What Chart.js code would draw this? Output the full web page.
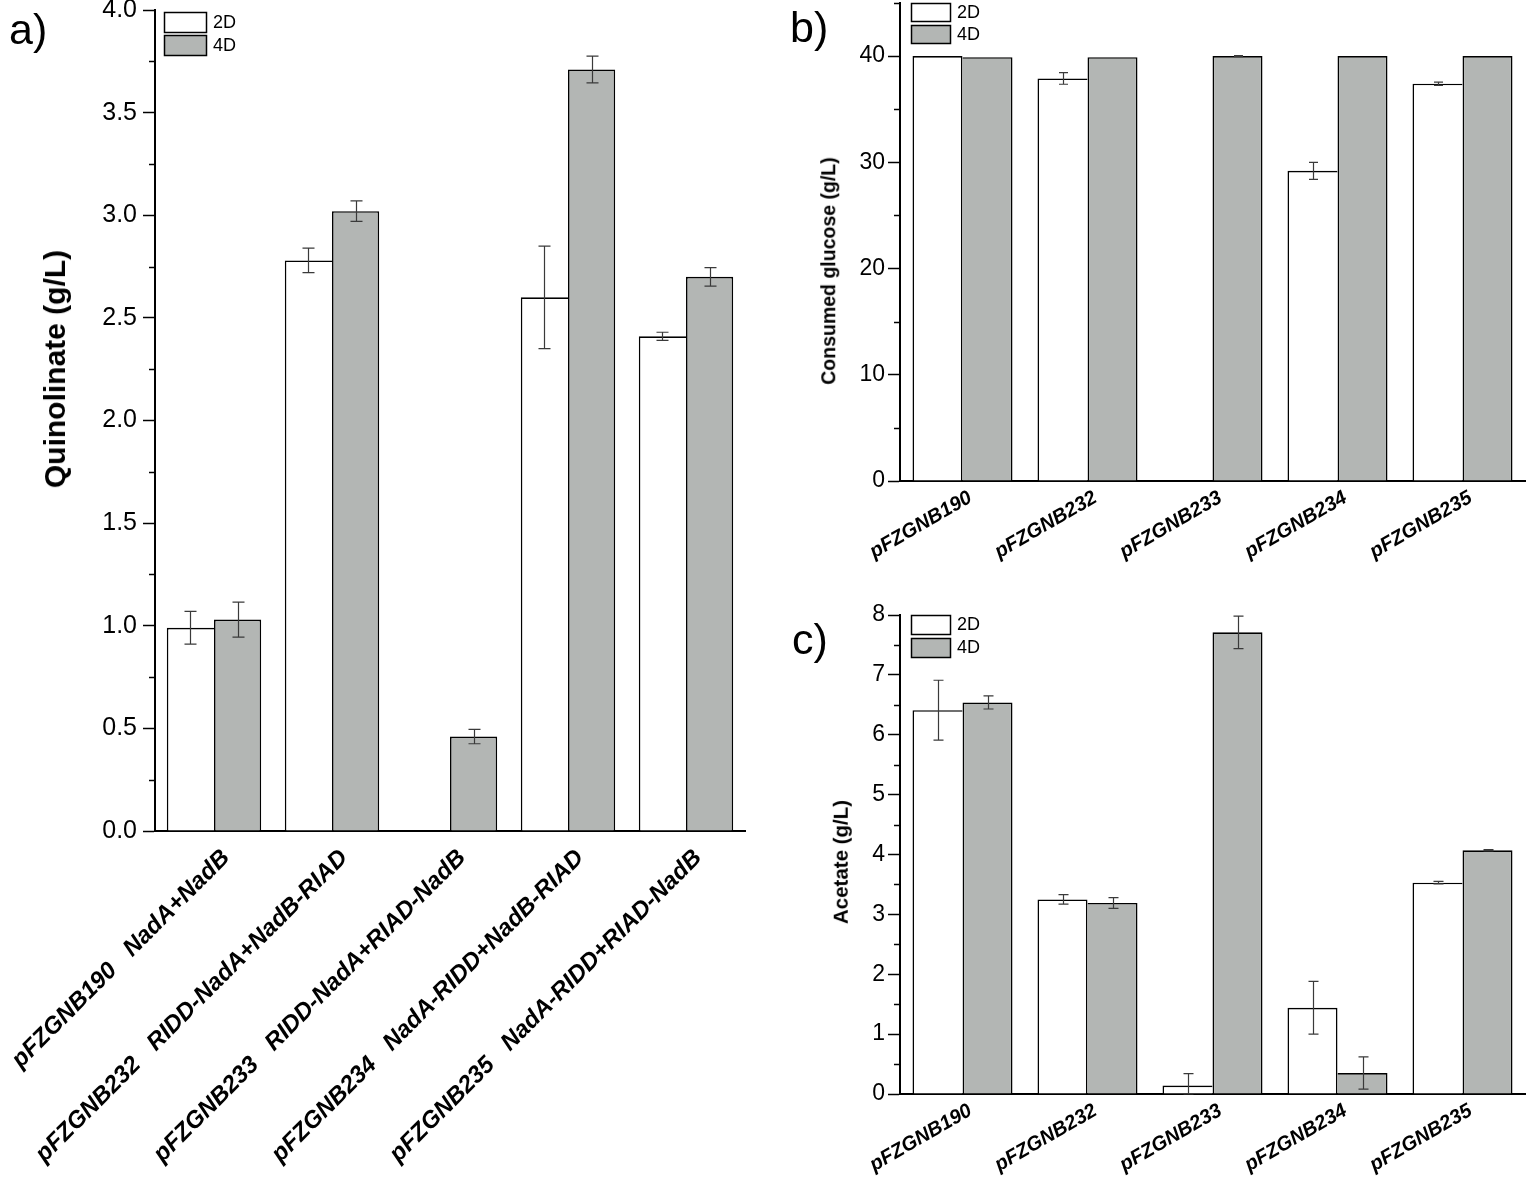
<!DOCTYPE html>
<html><head><meta charset="utf-8">
<script src="https://cdn.jsdelivr.net/npm/chart.js@4.4.1/dist/chart.umd.min.js"></script>
<style>
html,body{margin:0;padding:0;background:#fff;}
body{width:1528px;height:1180px;position:relative;overflow:hidden;font-family:"Liberation Sans",Arial,sans-serif;color:#000;}
.cv{position:absolute;}
.pl{position:absolute;font-size:43px;line-height:1;}
.yt{position:absolute;font-weight:bold;white-space:nowrap;line-height:1;transform:translate(-50%,-50%) rotate(-90deg);}
</style></head><body>
<div class="cv" style="left:0;top:0"><canvas id="ca" width="760" height="1180"></canvas></div>
<div class="cv" style="left:780px;top:0"><canvas id="cb" width="748" height="590"></canvas></div>
<div class="cv" style="left:780px;top:590px"><canvas id="cc" width="748" height="590"></canvas></div>
<div class="pl" style="left:9px;top:8px">a)</div>
<div class="pl" style="left:790px;top:6px">b)</div>
<div class="pl" style="left:792px;top:618px">c)</div>
<div class="yt" style="left:55px;top:369px;font-size:30px">Quinolinate (g/L)</div>
<div class="yt" style="left:829px;top:271px;font-size:19.5px">Consumed glucose (g/L)</div>
<div class="yt" style="left:841px;top:862px;font-size:20.5px">Acetate (g/L)</div>
<script>
// ---------- data ----------
const seriesLabels = ['2D', '4D'];
const categoriesA = ['pFZGNB190   NadA+NadB', 'pFZGNB232   RIDD-NadA+NadB-RIAD', 'pFZGNB233   RIDD-NadA+RIAD-NadB', 'pFZGNB234   NadA-RIDD+NadB-RIAD', 'pFZGNB235   NadA-RIDD+RIAD-NadB'];
const categoriesBC = ['pFZGNB190', 'pFZGNB232', 'pFZGNB233', 'pFZGNB234', 'pFZGNB235'];

const quin2D = [0.99, 2.78, null, 2.60, 2.41];
const quin2DErr = [0.08, 0.06, null, 0.25, 0.02];
const quin4D = [1.03, 3.02, 0.46, 3.71, 2.70];
const quin4DErr = [0.085, 0.05, 0.035, 0.065, 0.045];

const gluc2D = [40.0, 37.9, null, 29.2, 37.4];
const gluc2DErr = [0, 0.55, null, 0.8, 0.15];
const gluc4D = [39.9, 39.9, 40.0, 40.0, 40.0];
const gluc4DErr = [0, 0, 0.05, 0, 0];

const acet2D = [6.41, 3.25, 0.14, 1.44, 3.53];
const acet2DErr = [0.50, 0.08, 0.20, 0.44, 0.02];
const acet4D = [6.54, 3.19, 7.71, 0.35, 4.07];
const acet4DErr = [0.11, 0.09, 0.27, 0.27, 0.01];

// ---------- styling ----------
const FAM = '"Liberation Sans", Arial, sans-serif';
const C2D = '#ffffff';
const C4D = 'rgb(179,182,180)';
const BW = 1.6;

const errorBars = {
  id: 'errorBars',
  afterDatasetsDraw(chart, args, opts) {
    const ctx = chart.ctx, y = chart.scales.y;
    chart.data.datasets.forEach((ds, i) => {
      const errs = ds.errors; if (!errs) return;
      const meta = chart.getDatasetMeta(i);
      meta.data.forEach((bar, j) => {
        const v = ds.data[j], e = errs[j];
        if (v == null || !e) return;
        const t = y.getPixelForValue(v + e);
        const b = y.getPixelForValue(Math.max(v - e, y.min));
        const x = Math.round(bar.x) + 0.5;
        ctx.save();
        ctx.strokeStyle = '#3a3a3a'; ctx.lineWidth = 1.2;
        ctx.beginPath();
        ctx.moveTo(x, t); ctx.lineTo(x, b);
        ctx.moveTo(x - opts.cap, t); ctx.lineTo(x + opts.cap, t);
        ctx.moveTo(x - opts.cap, b); ctx.lineTo(x + opts.cap, b);
        ctx.stroke();
        ctx.restore();
      });
    });
  }
};

const minorTicks = {
  id: 'minorTicks',
  afterDraw(chart, args, opts) {
    const ctx = chart.ctx, y = chart.scales.y;
    const n = Math.round((y.max - y.min) / opts.step);
    ctx.save();
    ctx.strokeStyle = '#000'; ctx.lineWidth = 1.5;
    for (let k = 0; k <= n; k++) {
      if (k % 2 === 0) continue;
      const v = y.min + k * opts.step;
      const py = Math.round(y.getPixelForValue(v)) + 0.5;
      ctx.beginPath();
      ctx.moveTo(y.right - opts.len, py); ctx.lineTo(y.right, py);
      ctx.stroke();
    }
    ctx.restore();
  }
};

const boxLegend = {
  id: 'boxLegend',
  afterDraw(chart, args, o) {
    const ctx = chart.ctx;
    ctx.save();
    chart.data.datasets.forEach((ds, i) => {
      const yy = o.y + i * (o.h + o.gap);
      ctx.fillStyle = ds.backgroundColor;
      ctx.fillRect(o.x, yy, o.w, o.h);
      ctx.strokeStyle = '#000'; ctx.lineWidth = 1.5;
      ctx.strokeRect(o.x + 0.5, yy + 0.5, o.w, o.h);
      ctx.fillStyle = '#000';
      ctx.font = o.size + 'px ' + FAM;
      ctx.textBaseline = 'middle'; ctx.textAlign = 'left';
      ctx.fillText(ds.label, o.x + o.w + 7, yy + o.h / 2 + 1);
    });
    ctx.restore();
  }
};

function makeChart(id, cats, d2, e2, d4, e4, c) {
  const bw2 = (ctx) => {
    const j = ctx.dataIndex;
    const v4 = d4[j] == null ? 0 : d4[j];
    return {top: BW, left: BW, bottom: 0, right: (d2[j] >= v4 ? BW : 0)};
  };
  const bw4 = (ctx) => {
    const j = ctx.dataIndex;
    const v2 = d2[j] == null ? -1 : d2[j];
    return {top: BW, right: BW, bottom: 0, left: (d4[j] > v2 ? BW : 0)};
  };
  return new Chart(document.getElementById(id), {
    type: 'bar',
    data: {
      labels: cats,
      datasets: [
        {label: seriesLabels[0], data: d2, errors: e2, backgroundColor: C2D, borderColor: '#000', borderWidth: bw2,
         categoryPercentage: 0.8, barPercentage: 1.0},
        {label: seriesLabels[1], data: d4, errors: e4, backgroundColor: C4D, borderColor: '#000', borderWidth: bw4,
         categoryPercentage: 0.8, barPercentage: 1.0}
      ]
    },
    options: {
      responsive: false, animation: false, events: [],
      layout: {padding: {left: 0, right: c.padR, top: c.padT, bottom: 0}},
      plugins: {
        legend: {display: false}, tooltip: {enabled: false},
        errorBars: {cap: c.cap},
        minorTicks: {step: c.step / 2, len: 6},
        boxLegend: c.legend
      },
      scales: {
        x: {
          grid: {display: false},
          border: {display: true, color: '#000', width: 2},
          ticks: {color: '#000', autoSkip: false, maxRotation: c.rot, minRotation: c.rot,
                  padding: c.xPad, labelOffset: c.xOff,
                  font: {family: FAM, size: c.xFont, weight: 'bold', style: 'italic'}},
          afterFit(s) { s.height = c.xH; s.paddingLeft = 0; s.paddingRight = 0; }
        },
        y: {
          min: 0, max: c.max,
          ticks: {stepSize: c.step, color: '#000', padding: c.yPad,
                  font: {family: FAM, size: c.yFont},
                  callback: (v) => c.dec ? Number(v).toFixed(c.dec) : String(v)},
          grid: {drawOnChartArea: false, drawTicks: true, tickLength: 12, tickWidth: 1.5, tickColor: '#000'},
          border: {display: true, color: '#000', width: 2},
          afterBuildTicks(s) {
            s.ticks = s.ticks.filter(t => Math.abs(t.value / c.step - Math.round(t.value / c.step)) < 1e-6);
          },
          afterFit(s) { s.width = c.yW; s.paddingTop = 0; s.paddingBottom = 0; }
        }
      }
    },
    plugins: [errorBars, minorTicks, boxLegend]
  });
}

makeChart('ca', categoriesA, quin2D, quin2DErr, quin4D, quin4DErr, {
  padR: 15, padT: 10, yW: 155, xH: 349, max: 4, step: 0.5, dec: 1, yFont: 25, yPad: 6,
  xFont: 24, rot: 45, xPad: 5, xOff: 12, cap: 6,
  legend: {x: 164, y: 12, w: 42, h: 20, gap: 3, size: 18}
});
makeChart('cb', categoriesBC, gluc2D, gluc2DErr, gluc4D, gluc4DErr, {
  padR: 3, padT: 3, yW: 120, xH: 109, max: 45, step: 10, dec: 0, yFont: 23, yPad: 3,
  xFont: 20, rot: 30, xPad: -3, xOff: 8, cap: 4.5,
  legend: {x: 131, y: 3, w: 39, h: 18, gap: 4, size: 18}
});
makeChart('cc', categoriesBC, acet2D, acet2DErr, acet4D, acet4DErr, {
  padR: 3, padT: 25, yW: 120, xH: 86, max: 8, step: 1, dec: 0, yFont: 23, yPad: 3,
  xFont: 20, rot: 30, xPad: -3, xOff: 8, cap: 5,
  legend: {x: 131, y: 25, w: 39, h: 19, gap: 4, size: 18}
});
</script>
</body></html>
